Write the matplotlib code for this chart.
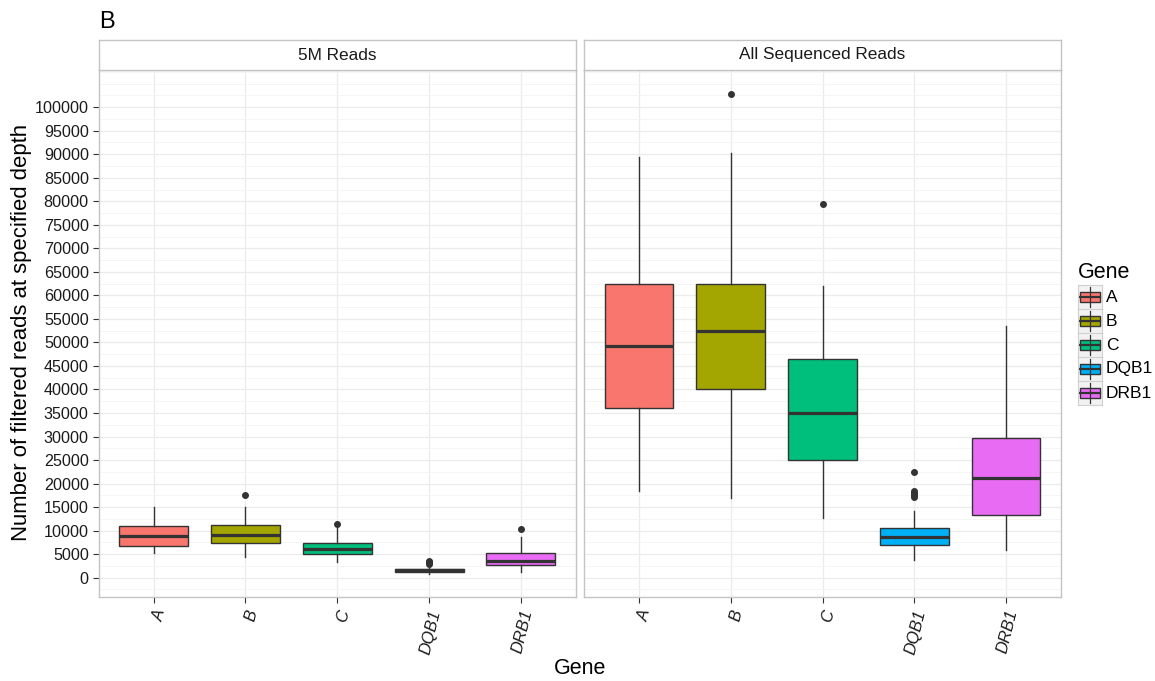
import matplotlib
matplotlib.use("Agg")
import matplotlib.pyplot as plt
from matplotlib.patches import Rectangle
from matplotlib.ticker import MultipleLocator

plt.rcParams['font.family'] = ['Liberation Sans', 'DejaVu Sans']

genes = ["A", "B", "C", "DQB1", "DRB1"]
colors = ["#F8766D", "#A3A500", "#00BF7D", "#00B0F6", "#E76BF3"]
panels = ["5M Reads", "All Sequenced Reads"]

# summary statistics per gene (5M reads)
m5_whislo = [5200, 4500, 3250, 800, 1200]
m5_q1 = [6800, 7400, 4960, 1200, 2700]
m5_med = [8900, 9000, 6200, 1550, 3500]
m5_q3 = [11000, 11250, 7400, 1900, 5200]
m5_whishi = [15000, 15000, 10500, 2600, 8600]
m5_fliers = [[], [17500], [11400], [3000, 3300, 3500], [10300]]

# summary statistics per gene (all sequenced reads)
all_whislo = [18500, 16900, 12700, 3800, 5800]
all_q1 = [36000, 40000, 25100, 6900, 13400]
all_med = [49200, 52400, 34900, 8600, 21200]
all_q3 = [62500, 62500, 46400, 10600, 29700]
all_whishi = [89500, 90300, 62100, 14100, 53600]
all_fliers = [[], [102800], [79500], [17100, 17600, 18000, 18400, 22500], []]

yticks = list(range(0, 100001, 5000))

W, H = 1155, 681
fig = plt.figure(figsize=(W / 100, H / 100), dpi=100)

def fx(px):
    return px / W

def fy(py):
    return 1 - py / H

edge = "#333333"
border = "#c4c4c4"

def make_stats(lo, q1, med, q3, hi, fl):
    return [dict(whislo=a, q1=b, med=c, q3=d, whishi=e, fliers=f)
            for a, b, c, d, e, f in zip(lo, q1, med, q3, hi, fl)]

datasets = [
    make_stats(m5_whislo, m5_q1, m5_med, m5_q3, m5_whishi, m5_fliers),
    make_stats(all_whislo, all_q1, all_med, all_q3, all_whishi, all_fliers),
]

panel_x = [(98.5, 576), (584, 1061)]
top, bot, strip_top = 70, 597, 40
positions = list(range(1, len(genes) + 1))

for i, (x0, x1) in enumerate(panel_x):
    ax = fig.add_axes([fx(x0), fy(bot), fx(x1 - x0), (bot - top) / H])
    bp = ax.bxp(datasets[i], positions=positions, widths=0.75, patch_artist=True,
                showcaps=False, zorder=3,
                boxprops=dict(edgecolor=edge, linewidth=1.0),
                medianprops=dict(color=edge, linewidth=2.3, solid_capstyle='butt'),
                whiskerprops=dict(color=edge, linewidth=1.0),
                flierprops=dict(marker='o', markerfacecolor=edge, markeredgecolor=edge,
                                markersize=4, linestyle='none'))
    for patch, c in zip(bp['boxes'], colors):
        patch.set_facecolor(c)
    ax.set_xlim(0.4, 5.6)
    ax.set_ylim(-4100, 107900)
    ax.set_xticks(positions)
    ax.set_xticklabels(genes, rotation=76, ha='right', va='top',
                       rotation_mode='anchor', fontstyle='italic', fontsize=12,
                       color='#1a1a1a')
    ax.set_yticks(yticks)
    ax.yaxis.set_minor_locator(MultipleLocator(2500))
    ax.tick_params(axis='y', which='minor', length=0)
    ax.tick_params(axis='x', which='major', pad=4)
    ax.tick_params(axis='both', which='major', length=4, width=0.8, color=edge,
                   labelcolor='#1a1a1a')
    ax.tick_params(axis='y', which='major', labelsize=11.6, pad=3)
    if i == 0:
        ax.set_yticklabels([str(v) for v in yticks])
    else:
        ax.tick_params(axis='y', which='both', left=False, labelleft=False)
    ax.grid(True, which='major', color='#ebebeb', linewidth=0.9, zorder=0)
    ax.grid(True, which='minor', axis='y', color='#f4f4f4', linewidth=0.6, zorder=0)
    ax.set_axisbelow(True)
    for s in ax.spines.values():
        s.set_color(border)
        s.set_linewidth(1.0)
    # strip
    sax = fig.add_axes([fx(x0), fy(top), fx(x1 - x0), (top - strip_top) / H])
    sax.set_xticks([])
    sax.set_yticks([])
    for s in sax.spines.values():
        s.set_color(border)
        s.set_linewidth(1.0)
    sax.text(0.5, 0.5, panels[i], ha='center', va='center', fontsize=12.4,
             color='#1a1a1a', transform=sax.transAxes)

fig.text(fx(99), fy(22), "B", fontsize=17, ha='left', va='center', color='black')
fig.text(fx(22), fy(332), "Number of filtered reads at specified depth", rotation=90,
         ha='center', va='center', fontsize=15.9, color='black')
fig.text(fx(580), fy(668), "Gene", ha='center', va='center', fontsize=15.5, color='black')

# legend
fig.text(fx(1078), fy(273), "Gene", ha='left', va='center', fontsize=15.5, color='black')
key_x, key_y0, key_w, key_h = 1078, 285, 24, 24
for j, (g, c) in enumerate(zip(genes, colors)):
    ky = key_y0 + j * key_h
    kax = fig.add_axes([fx(key_x), fy(ky + key_h), fx(key_w), key_h / H])
    kax.set_xlim(0, 1)
    kax.set_ylim(0, 1)
    kax.set_xticks([])
    kax.set_yticks([])
    kax.set_facecolor('#f2f2f2')
    for s in kax.spines.values():
        s.set_color('#d0d0d0')
        s.set_linewidth(0.8)
    kax.plot([0.5, 0.5], [0.08, 0.92], color=edge, lw=0.9)
    kax.add_patch(Rectangle((0.1, 0.28), 0.8, 0.44, facecolor=c, edgecolor=edge, lw=1.0))
    kax.plot([0.1, 0.9], [0.5, 0.5], color=edge, lw=1.6)
    fig.text(fx(key_x + key_w + 4), fy(ky + key_h / 2), g, ha='left', va='center',
             fontsize=12.5, color='black')

fig.savefig("out.png", dpi=100)
